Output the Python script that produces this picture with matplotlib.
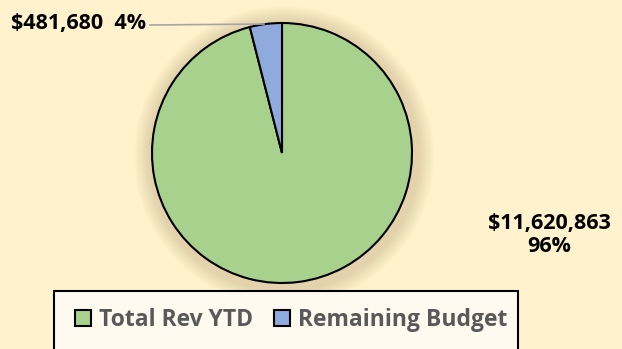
import matplotlib
matplotlib.use('Agg')
import matplotlib.pyplot as plt
from matplotlib.patches import Rectangle

plt.rcParams['font.family'] = ['Open Sans', 'DejaVu Sans']

labels = ['Total Rev YTD', 'Remaining Budget']
values = [11620863, 481680]
colors = ['#A9D18E', '#8FAADC']

W, H = 622, 349
fig = plt.figure(figsize=(W / 100, H / 100), dpi=100)
fig.patch.set_facecolor('#FFF2CC')
ax = fig.add_axes([0, 0, 1, 1])
ax.set_facecolor('#FFF2CC')

# soft shadow behind the pie
cx, cy, r = 282, H - 153, 130
for k in range(16):
    rr = r + 20 - k
    ax.add_patch(plt.Circle((cx + 2, cy - 3), rr, color='#C8B48A',
                            alpha=0.03, lw=0, zorder=0))

wedges, _ = ax.pie(values, colors=colors, startangle=90, counterclock=False,
                   center=(cx, cy), radius=r, frame=True,
                   wedgeprops=dict(edgecolor='black', linewidth=1.5))
ax.set_xlim(0, W)
ax.set_ylim(0, H)
ax.set_aspect('equal')
ax.axis('off')

total = sum(values)
pcts = [v / total * 100 for v in values]

# label for remaining budget with leader line
ax.plot([150, 264], [H - 25, H - 24], color='#A6A6A6', lw=1.2, zorder=3)
ax.text(11, H - 24, f'${values[1]:,}  {pcts[1]:.0f}%', fontsize=15.5,
        fontweight='bold', ha='left', va='center', color='black')

# label for total revenue
ax.text(549, H - 235, f'${values[0]:,}\n{pcts[0]:.0f}%', fontsize=15.5,
        fontweight='bold', ha='center', va='center', color='black',
        linespacing=1.1)

# legend box
ax.add_patch(Rectangle((54, -5), 464, H - 291 + 5, facecolor='#FEFAF0',
                       edgecolor='black', lw=1.5, zorder=4, clip_on=False))
leg = ax.legend(wedges, labels, loc='center left',
                bbox_to_anchor=(75 / W, (H - 320) / H), borderpad=0,
                borderaxespad=0, ncol=2, frameon=False, fontsize=16.5,
                handlelength=0.7, handleheight=0.7, handletextpad=0.35,
                columnspacing=0.92)
for t in leg.get_texts():
    t.set_color('#595959')
    t.set_fontweight('bold')
leg.set_zorder(5)

fig.savefig('out.png', dpi=100, facecolor=fig.get_facecolor())
